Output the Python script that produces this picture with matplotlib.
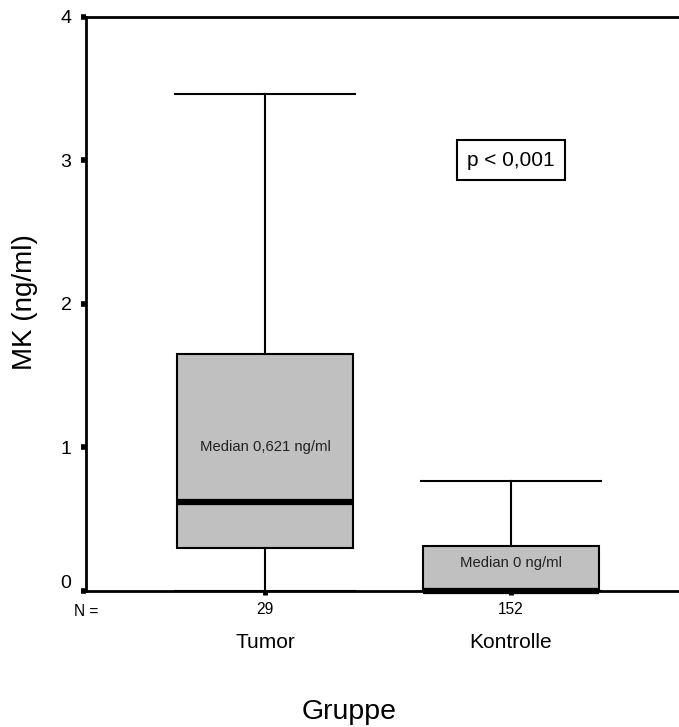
import matplotlib
matplotlib.use("Agg")
import matplotlib.pyplot as plt
import matplotlib.transforms as mtransforms

plt.rcParams["font.family"] = ["Liberation Sans", "DejaVu Sans"]

# Box summary statistics per group (ng/ml)
groups = ["Tumor", "Kontrolle"]
n_counts = ["29", "152"]
q1 = [0.30, 0.0]
medians = [0.621, 0.0]
q3 = [1.65, 0.31]
whisk_lo = [0.0, 0.0]
whisk_hi = [3.46, 0.766]
median_labels = ["Median 0,621 ng/ml", "Median 0 ng/ml"]
median_label_y = [1.0, 0.195]
p_text = "p < 0,001"

fig = plt.figure(figsize=(6.79, 7.27), dpi=100)
ax = fig.add_axes([86 / 679, 136 / 727, 1 - 86 / 679, 574.5 / 727])

stats = []
for i, g in enumerate(groups):
    stats.append(dict(label=g, q1=q1[i], med=medians[i], q3=q3[i],
                      whislo=whisk_lo[i], whishi=whisk_hi[i], fliers=[]))

pos = [1, 2]
bp = ax.bxp(stats, positions=pos, widths=0.715, capwidths=0.73,
            patch_artist=True, showfliers=False,
            boxprops=dict(facecolor="#c0c0c0", edgecolor="black", linewidth=1.5),
            medianprops=dict(color="black", linewidth=4.5, solid_capstyle="butt"),
            whiskerprops=dict(color="black", linewidth=1.5),
            capprops=dict(color="black", linewidth=1.5))
for m in bp["medians"]:
    m.set_clip_on(False)
    m.set_zorder(5)

ax.set_xlim(0.272, 2.683)
ax.set_ylim(0, 4)
ax.set_yticks([0, 1, 2, 3, 4])
ax.set_yticklabels(["0", "1", "2", "3", "4"], fontsize=14)
ax.set_xticks(pos)
ax.set_xticklabels(n_counts, fontsize=11.2)

ax.tick_params(axis="y", direction="out", length=3.5, width=4, pad=7)
ax.tick_params(axis="x", direction="out", length=3, width=3.5, pad=5)

# nudge the zero label up off the corner
lab0 = ax.get_yticklabels()[0]
lab0.set_transform(lab0.get_transform() +
                   mtransforms.ScaledTranslation(0, 10 / 100, fig.dpi_scale_trans))

for s in ["left", "bottom", "top"]:
    ax.spines[s].set_linewidth(2)
ax.spines["right"].set_visible(False)

xt = ax.get_xaxis_transform()
for p, g in zip(pos, groups):
    ax.text(p, -0.09, g, transform=xt, ha="center", va="center", fontsize=15)
ax.text(0.272, -0.036, "N =", transform=xt, ha="center", va="center", fontsize=11.2)

for p, t, y in zip(pos, median_labels, median_label_y):
    ax.text(p, y, t, ha="center", va="center", fontsize=10.7, color="#222222")

ax.text(2.0, 3.0, p_text, ha="center", va="center", fontsize=15,
        bbox=dict(boxstyle="square,pad=0.5", facecolor="white",
                  edgecolor="black", linewidth=1.5))

fig.text(25 / 679, 1 - 302 / 727, "MK (ng/ml)", rotation=90,
         ha="center", va="center", fontsize=20)
fig.text(0.5 + 10 / 679, 1 - 712 / 727, "Gruppe", ha="center", va="center", fontsize=20.5)

fig.savefig("out.png", dpi=100)
